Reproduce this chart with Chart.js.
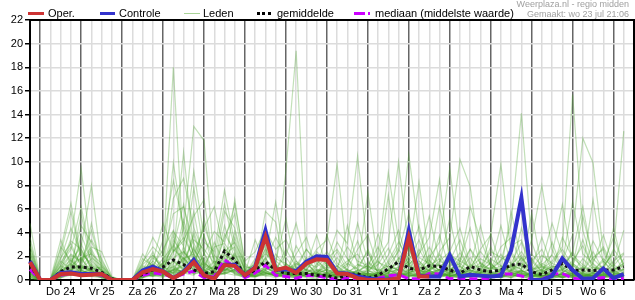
<!DOCTYPE html>
<html lang="nl">
<head>
<meta charset="UTF-8">
<title>Neerslag pluim</title>
<script src="https://cdn.jsdelivr.net/npm/chart.js@4"></script>
<style>
    body { margin: 0; background: #fff; font-family: "Liberation Sans", Arial, sans-serif; }
    .wrap { position: relative; width: 635px; height: 300px; }
    canvas { position: absolute; left: 0; top: 0; }
    .lg { position: absolute; top: 7px; font-size: 11px; line-height: 13px; color: #000; white-space: nowrap; }
    .sw { position: absolute; }
    .info { position: absolute; right: 6px; font-size: 9px; line-height: 10px; color: #a0a0a0; text-align: right; white-space: nowrap; }
</style>
</head>
<body>
<div class="wrap">
    <canvas id="chart" width="635" height="300"></canvas>
    <div class="sw" style="left:28px;top:12px;width:16px;height:3px;background:#cc3333"></div>
    <div class="lg" style="left:48px">Oper.</div>
    <div class="sw" style="left:100px;top:12px;width:15px;height:3px;background:#3333cc"></div>
    <div class="lg" style="left:119px">Controle</div>
    <div class="sw" style="left:184px;top:13px;width:16px;height:1px;background:#a9d497"></div>
    <div class="lg" style="left:203px">Leden</div>
    <div class="sw" style="left:257px;top:12px;width:14px;height:0;border-top:3px dotted #000"></div>
    <div class="lg" style="left:277px">gemiddelde</div>
    <div class="sw" style="left:354px;top:12px;width:11px;height:3px;background:#cc00ff"></div>
    <div class="sw" style="left:368px;top:12px;width:2px;height:3px;background:#cc00ff"></div>
    <div class="lg" style="left:375px">mediaan (middelste waarde)</div>
    <div class="info" style="top:-1px">Weerplaza.nl - regio midden</div>
    <div class="info" style="top:9px">Gemaakt: wo 23 jul 21:06</div>
</div>
<script>
// 6-hourly steps, starting wo 23 jul 18:00
var dayNames = ['Do 24', 'Vr 25', 'Za 26', 'Zo 27', 'Ma 28', 'Di 29', 'Wo 30', 'Do 31', 'Vr 1', 'Za 2', 'Zo 3', 'Ma 4', 'Di 5', 'Wo 6'];
var yTicks = [0, 2, 4, 6, 8, 10, 12, 14, 16, 18, 20, 22];

var oper = [1.5, 0, 0, 0.5, 0.55, 0.4, 0.45, 0.5, 0, 0,
            0, 0.65, 0.93, 0.7, 0.15, 0.65, 1.5, 0.4, 0.1, 1.27,
            1.2, 0.4, 1.05, 3.66, 0.85, 1.05, 0.6, 1.4, 1.75, 1.7,
            0.55, 0.5, 0.15, 0, 0, 0, 0.15, 3.6, 0.3, 0.3];

var controle = [1.6, 0, 0, 0.6, 0.65, 0.5, 0.5, 0.5, 0, 0,
                0, 0.8, 1.13, 0.75, 0.15, 0.7, 1.7, 0.4, 0.1, 1.3,
                1.3, 0.4, 1.1, 4.2, 0.85, 0.9, 0.75, 1.55, 2.0, 1.95,
                0.6, 0.55, 0.3, 0.15, 0.05, 0.05, 0.1, 4.2, 0.35, 0.3,
                0.3, 2.1, 0.3, 0.45, 0.37, 0.3, 0.37, 2.5, 6.96, 0,
                0, 0.35, 1.83, 0.85, 0.1, 0.15, 0.98, 0.15, 0.5, 0.4];

var gemiddelde = [1.3, 0, 0, 0.7, 1.1, 1.1, 1.0, 0.65, 0.1, 0,
                  0, 0.5, 0.85, 1.1, 1.7, 1.3, 0.85, 0.55, 0.7, 2.45,
                  1.7, 0.4, 0.85, 1.55, 0.85, 0.55, 0.55, 0.55, 0.4, 0.4,
                  0.15, 0.4, 0.55, 0.15, 0.4, 0.95, 1.55, 1.0, 0.85, 1.2,
                  1.15, 0.85, 0.55, 1.15, 0.85, 0.7, 0.85, 1.27, 1.35, 0.7,
                  0.45, 0.85, 1.4, 0.8, 0.85, 0.8, 0.85, 0.85, 1.13, 1.1];

var mediaan = [0.9, 0, 0, 0.4, 0.55, 0.4, 0.5, 0.4, 0, 0,
               0, 0.4, 0.6, 0.5, 0.2, 0.5, 0.75, 0.2, 0.3, 1.7,
               1.1, 0.2, 0.6, 1.25, 0.4, 0.3, 0.15, 0.4, 0.35, 0.2,
               0.05, 0.2, 0.05, 0, 0.15, 0.35, 0.45, 0.1, 0.1, 0.55,
               0.5, 0.1, 0.15, 0.1, 0.1, 0.15, 0.5, 0.5, 0.35, 0.02,
               0.05, 0.5, 0.55, 0.15, 0.05, 0.1, 0.2, 0.05, 0.15, 0.15];

var leden = [
    [0.8,0,0,1.2,3.5,9.4,2.1,0.6,0,0, 0,0.4,1.1,0.6,0.3,1.8,2.2,0.9,0.2,1.4, 0.8,0.2,0.6,1.9,0.4,0.3,0.2,0.8,0.5,0.3, 0.1,0.4,0.6,0.2,0,0.3,1.1,0.5,0.2,0.4, 0.9,0.3,0.2,0.5,0.3,0.1,0.6,1.2,0.4,0, 0.1,0.5,1.0,0.3,0.2,0.4,0.3,0.2,0.6,0.4],
    [2.5,0,0,0.4,1.6,2.8,8.0,1.3,0.2,0, 0,0.8,2.4,0.5,0.9,0.6,0.4,1.7,0.3,0.6, 2.2,0.4,0.3,0.8,1.2,0.5,0.4,0.2,0.1,0.6, 1.2,0.3,0.2,0.5,0.3,0.8,0.4,2.1,1.1,0.6, 0.3,0.8,0.4,0.2,0.6,1.5,0.3,0.2,0.8,0.4, 0.2,0.1,0.4,0.9,0.5,0.3,0.2,0.7,0.4,0.3],
    [1.1,0,0,0.2,0.6,1.0,0.8,0.3,0,0, 0,1.5,2.8,1.9,18.0,2.5,1.2,0.6,0.3,0.8, 1.1,0.3,0.5,1.2,0.4,0.2,0.8,1.6,0.4,0.2, 0.5,0.9,0.3,0.1,0.2,0.6,0.3,1.4,0.6,0.8, 1.3,0.4,0.2,0.3,0.9,0.5,0.2,0.4,0.3,0.1, 0.3,0.6,0.2,0.4,1.1,0.6,0.2,0.3,0.5,0.8],
    [0.4,0,0,0.8,1.4,0.6,0.9,0.4,0,0, 0,0.2,0.6,1.3,9.9,4.2,1.5,0.8,0.5,2.1, 1.6,0.6,0.4,2.4,0.9,0.5,0.3,0.4,0.8,0.2, 0.3,0.2,0.5,0.8,0.4,0.2,0.9,0.6,0.3,1.2, 0.4,0.2,0.3,0.6,0.4,0.3,0.2,0.8,1.9,0.6, 0.2,0.4,0.3,0.5,0.2,0.7,0.4,0.3,0.2,0.5],
    [4.8,0,0,2.6,6.5,1.8,0.7,0.5,0,0, 0,0.6,0.3,0.9,2.2,10.8,2.6,1.1,0.6,0.9, 0.7,0.3,1.2,0.6,0.3,1.4,0.8,0.5,0.6,0.4, 0.8,0.5,0.2,0.3,0.6,0.2,0.5,0.3,1.6,0.7, 0.5,0.9,0.6,0.4,0.2,0.6,0.8,0.3,0.5,0.2, 0.8,0.3,0.5,0.2,0.4,0.3,0.8,0.6,0.3,0.2],
    [0.6,0,0,0.3,0.8,1.4,2.6,0.9,0,0, 0,0.3,0.8,0.4,1.3,4.4,13.0,11.8,1.4,0.6, 0.9,0.2,0.4,0.7,0.3,0.6,1.1,0.4,0.3,0.6, 0.3,0.2,0.4,0.6,0.2,0.9,0.5,0.3,0.4,0.6, 0.2,0.5,0.9,0.4,0.3,0.2,0.6,0.4,0.8,0.3, 0.6,0.2,0.3,0.8,0.3,0.2,0.5,0.4,0.9,0.3],
    [1.8,0,0,0.5,0.9,5.6,1.2,0.3,0,0, 0,0.5,1.6,0.8,3.1,1.4,7.8,2.3,0.8,4.6, 1.8,0.5,0.3,1.1,0.6,0.8,0.4,0.3,0.6,1.3, 0.6,0.4,0.3,0.2,0.1,0.4,0.8,0.4,0.2,0.5, 0.3,0.6,0.4,0.9,0.5,0.3,0.2,0.6,0.3,0.4, 0.2,0.8,0.6,0.3,0.5,0.4,0.2,0.9,0.3,0.6],
    [0.3,0,0,0.6,0.4,0.8,0.5,0.2,0,0, 0,1.0,0.5,0.3,1.8,0.9,1.6,3.2,2.4,7.6, 3.1,0.8,0.6,0.9,1.4,0.4,0.2,0.5,0.3,0.4, 0.2,0.6,0.4,0.3,0.5,0.2,0.4,0.6,0.9,0.3, 0.6,0.3,1.2,0.4,0.6,0.8,0.4,0.5,0.2,0.3, 0.4,0.2,0.6,1.3,0.4,0.2,0.3,0.4,0.2,0.8],
    [0.9,0,0,0.2,0.5,0.4,0.3,0.6,0,0, 0,0.3,0.4,0.2,0.9,1.2,0.5,0.8,0.4,1.2, 2.3,0.4,1.6,2.9,1.1,9.3,19.4,1.5,0.5,0.3, 0.4,0.3,0.2,0.4,0.3,0.2,0.3,0.8,0.4,0.6, 0.3,0.4,0.2,0.6,0.3,0.5,0.4,0.2,0.6,0.4, 0.3,0.6,0.2,0.4,0.3,0.5,0.6,0.3,0.4,0.2],
    [3.2,0,0,0.9,2.1,1.5,4.2,1.1,0.1,0, 0,0.9,1.3,0.6,2.6,1.8,0.9,5.2,1.6,0.8, 6.8,1.2,0.8,5.8,4.9,0.6,0.4,0.3,0.5,0.9, 0.4,0.3,0.8,0.5,0.2,0.3,0.6,0.4,0.3,0.8, 0.5,0.3,0.6,0.2,0.4,0.7,0.3,0.6,0.5,0.3, 0.4,0.3,0.2,0.6,0.8,0.3,0.4,0.2,0.5,0.3],
    [0.5,0,0,0.4,0.7,0.3,0.6,0.2,0,0, 0,0.4,0.6,0.8,0.5,1.9,0.8,0.6,0.3,2.8, 1.1,0.3,0.4,0.6,0.3,0.8,0.5,1.2,2.6,3.4, 9.8,1.8,0.6,0.4,0.3,0.2,0.5,0.9,0.4,0.3, 0.6,0.4,0.3,0.5,0.8,0.2,0.3,0.6,0.4,0.2, 0.5,0.4,0.6,0.3,0.2,0.4,0.5,0.3,0.7,0.4],
    [0.2,0,0,0.3,0.5,0.9,0.4,0.3,0,0, 0,0.2,0.9,0.4,1.1,0.6,2.8,0.9,0.4,1.5, 0.6,0.2,0.3,0.5,0.6,0.3,1.4,0.8,0.5,1.6, 4.2,3.1,10.5,2.4,0.5,0.3,0.2,0.6,0.4,0.8, 0.3,0.5,0.4,0.3,0.6,0.4,0.2,0.5,0.3,0.6, 0.2,0.3,0.5,0.4,0.3,0.6,0.2,0.4,0.3,0.5],
    [1.4,0,0,0.6,1.1,0.7,0.5,0.4,0,0, 0,0.5,0.3,0.6,0.8,2.4,1.3,0.5,0.6,0.8, 1.4,0.5,0.8,0.4,0.2,0.5,0.3,0.6,0.4,0.3, 0.5,0.4,0.6,0.9,2.2,9.1,3.4,1.2,0.6,0.4, 0.3,0.6,0.8,0.4,0.3,0.5,0.6,0.2,0.4,0.3, 0.6,0.4,0.3,0.2,0.5,0.3,0.4,0.8,0.3,0.2],
    [0.7,0,0,1.5,2.8,1.2,0.8,0.3,0,0, 0,0.7,0.5,0.9,0.6,1.4,3.8,1.2,0.9,1.1, 0.5,0.4,0.2,0.8,0.5,0.4,0.6,0.3,0.2,0.5, 0.8,0.3,0.4,0.6,1.8,3.2,10.0,2.6,0.8,0.5, 0.4,0.3,0.6,0.8,0.3,0.4,0.2,0.6,0.5,0.3, 0.2,0.5,0.4,0.3,0.6,0.4,0.3,0.5,0.2,0.4],
    [0.3,0,0,0.2,0.4,0.6,0.3,0.2,0,0, 0,0.4,0.7,0.5,1.6,0.8,0.6,2.2,0.5,0.6, 1.2,0.6,0.9,3.4,0.6,0.3,0.4,0.6,0.3,0.4, 0.3,0.5,0.2,0.3,0.6,1.4,2.8,10.6,4.1,1.2, 0.6,0.4,0.3,0.2,0.5,0.3,0.8,0.4,0.3,0.6, 0.4,0.3,0.2,0.5,0.4,0.6,0.3,0.2,0.4,0.6],
    [2.1,0,0,0.7,0.5,3.8,1.6,0.8,0.2,0, 0,0.3,0.6,0.3,0.7,0.5,1.2,0.4,0.3,0.9, 4.1,0.8,0.5,1.0,0.7,0.6,0.5,0.4,0.3,0.2, 0.6,0.4,0.3,0.8,0.4,0.6,0.9,2.4,8.3,1.6, 0.8,0.3,0.5,0.6,0.3,0.4,0.2,0.8,0.6,0.4, 0.3,0.5,0.2,0.4,0.6,0.3,0.5,0.4,0.2,0.3],
    [0.6,0,0,0.4,1.9,0.8,0.6,0.5,0,0, 0,0.6,0.4,0.7,0.4,0.9,0.6,1.5,0.7,0.5, 0.9,0.3,0.7,0.6,0.4,0.3,0.2,0.5,0.6,0.4, 0.3,0.6,0.5,0.3,0.4,0.8,0.6,1.3,2.2,3.6, 8.5,1.4,0.6,0.4,0.5,0.3,0.6,0.4,0.8,0.3, 0.4,0.2,0.6,0.5,0.3,0.4,0.6,0.3,0.5,0.2],
    [1.2,0,0,0.3,0.6,0.5,1.1,0.4,0,0, 0,0.8,0.5,0.4,1.2,0.6,2.0,0.8,0.4,0.6, 0.8,0.3,0.4,0.5,0.8,0.4,0.6,0.3,0.4,0.5, 0.2,0.4,0.3,0.5,0.6,0.3,0.4,0.8,0.6,1.9, 3.2,9.45,2.6,0.8,0.5,0.4,0.3,0.6,0.4,0.5, 0.3,0.6,0.4,0.2,0.3,0.5,0.4,0.6,0.3,0.5],
    [0.4,0,0,0.5,0.8,1.1,0.7,0.6,0,0, 0,0.2,0.4,0.8,0.6,2.8,1.1,0.5,0.6,1.8, 0.5,0.2,0.8,0.3,0.5,0.6,0.4,0.9,0.5,0.3, 0.4,0.8,0.5,0.3,0.2,0.4,0.5,0.6,1.1,0.8, 2.4,3.6,10.2,7.9,1.4,0.6,0.4,0.3,0.5,0.6, 0.3,0.4,0.5,0.3,0.6,0.2,0.4,0.5,0.6,0.3],
    [0.8,0,0,0.9,0.4,0.6,0.8,0.3,0,0, 0,0.6,1.4,0.5,0.8,1.1,0.9,0.6,1.2,0.7, 1.6,0.4,0.5,0.8,0.3,0.4,0.5,0.3,0.8,0.6, 0.5,0.3,0.4,0.6,0.4,0.5,0.3,0.6,0.4,0.5, 0.8,0.6,0.4,0.9,2.6,3.8,9.8,2.2,0.8,0.4, 0.6,0.3,0.5,0.4,0.3,0.6,0.4,0.3,0.5,0.4],
    [0.5,0,0,0.3,0.7,0.4,0.5,0.4,0,0, 0,0.4,0.7,0.3,0.9,0.7,1.4,1.9,0.6,0.8, 1.3,0.5,0.3,0.6,0.4,0.8,0.4,0.6,0.3,0.4, 0.6,0.4,0.3,0.2,0.5,0.4,0.6,0.3,0.5,0.8, 0.4,0.6,0.8,0.5,0.6,0.9,1.6,4.8,14.1,3.2, 0.8,0.5,0.3,0.6,0.4,0.3,0.5,0.4,0.6,0.3],
    [1.6,0,0,0.8,1.3,0.9,2.4,0.7,0,0, 0,0.9,0.6,1.2,0.5,0.8,0.6,0.9,0.4,1.0, 0.7,0.6,0.3,0.4,0.6,0.5,0.3,0.4,0.6,0.3, 0.5,0.4,0.6,0.4,0.3,0.6,0.4,0.5,0.3,0.6, 0.6,0.4,0.5,0.3,0.8,0.4,0.6,1.2,0.9,3.4, 8.0,2.6,0.8,0.5,0.3,0.4,0.6,0.3,0.4,0.5],
    [0.9,0,0,0.4,0.6,0.8,0.5,0.2,0,0, 0,0.3,0.5,0.6,0.8,0.5,0.9,0.4,0.5,0.6, 0.4,0.3,0.6,0.8,0.3,0.5,0.6,0.4,0.3,0.6, 0.4,0.6,0.3,0.5,0.4,0.3,0.5,0.4,0.6,0.4, 0.5,0.3,0.4,0.6,0.3,0.5,0.4,0.6,0.8,0.5, 0.9,1.6,2.8,15.7,4.2,1.3,0.6,0.4,0.3,0.5],
    [0.2,0,0,0.6,0.9,1.3,0.6,0.4,0,0, 0,0.5,0.3,0.4,1.0,0.6,0.8,0.5,0.3,0.9, 0.6,0.4,0.5,0.6,0.4,0.3,0.5,0.6,0.4,0.5, 0.3,0.5,0.4,0.6,0.3,0.5,0.4,0.3,0.5,0.6, 0.4,0.5,0.3,0.4,0.6,0.3,0.5,0.8,0.6,0.4, 1.2,0.8,1.6,3.8,12.0,9.9,2.4,0.6,0.5,0.4],
    [0.6,0,0,0.3,0.5,0.7,0.4,0.3,0,0, 0,0.6,0.4,0.5,0.6,0.9,0.5,0.7,0.4,0.5, 0.9,0.4,0.3,0.5,0.6,0.4,0.3,0.5,0.6,0.4, 0.5,0.3,0.6,0.4,0.5,0.3,0.6,0.4,0.3,0.5, 0.6,0.3,0.5,0.4,0.3,0.6,0.4,0.5,0.3,0.6, 0.4,0.3,0.5,0.6,0.4,0.8,1.1,2.4,12.6,4.8],
    [3.6,0,0,1.8,4.4,2.2,1.4,0.8,0.1,0, 0,1.4,3.6,2.1,5.6,6.2,3.1,1.4,0.9,5.8, 4.4,1.1,0.9,2.6,1.2,0.8,1.4,0.9,0.6,1.8, 2.6,1.2,4.8,1.6,0.8,1.2,2.4,5.6,1.9,1.4, 6.2,2.1,1.6,4.4,1.2,0.9,2.8,3.6,1.4,0.8, 1.6,4.8,2.2,1.1,5.4,1.8,0.9,2.6,1.4,3.2],
    [2.4,0,0.1,3.4,1.2,4.6,3.2,1.6,0.2,0, 0.1,0.8,1.6,4.8,2.4,3.3,5.4,6.8,1.1,3.6, 5.6,0.9,1.3,1.6,3.6,1.9,0.7,1.2,3.8,1.1, 0.8,4.6,1.3,0.9,3.9,1.4,0.8,1.6,3.4,0.9, 1.4,5.2,1.2,2.6,0.8,3.9,1.1,0.8,4.4,1.6, 0.7,2.2,6.4,1.4,0.8,3.3,1.6,0.6,1.8,2.6],
    [1.1,0,0,2.2,5.8,1.6,2.8,2.4,0.3,0, 0,2.2,1.1,0.9,6.9,8.6,4.4,2.2,4.1,3.2, 6.4,1.6,2.4,4.4,0.9,2.1,4.8,1.4,1.1,3.8, 1.4,0.9,2.6,3.8,1.1,7.2,1.6,3.1,1.2,2.8, 1.2,1.6,3.4,1.1,1.8,1.3,4.6,1.2,2.4,1.1, 3.6,1.1,1.4,6.6,2.2,1.4,3.8,1.2,4.2,1.4],
    [0.9,0,0,1.3,2.6,6.2,1.9,1.2,0.2,0, 0,0.4,2.1,1.2,4.1,2.9,9.2,3.6,1.8,6.4, 2.6,0.8,0.8,1.9,6.6,1.3,0.9,2.6,1.6,0.9, 3.2,1.8,0.9,7.4,1.5,1.1,0.9,1.9,4.6,1.2, 1.8,0.9,1.4,6.2,3.4,1.2,0.8,5.8,1.6,2.2, 1.2,0.8,3.6,1.9,1.1,6.8,1.4,3.6,1.2,2.4],
    [1.5,0,0,0.8,3.3,2.6,1.1,0.6,0,0, 0,1.2,0.9,3.4,8.4,4.6,2.2,4.4,6.2,2.4, 3.2,1.4,0.6,4.2,2.6,3.4,1.6,0.8,2.4,1.6, 1.1,2.8,1.6,1.2,0.8,2.1,4.2,1.3,2.1,5.4, 1.6,2.4,4.4,1.3,1.1,2.4,1.9,1.4,3.2,0.9, 2.1,1.4,1.1,2.4,6.2,1.6,2.8,1.2,2.2,1.1],
    [0.4,0,0,2.8,1.6,0.9,4.8,0.9,0.1,0, 0,0.3,0.8,1.4,2.8,6.4,1.8,0.9,3.2,1.4, 2.1,0.6,3.4,1.2,0.8,0.6,2.2,3.6,0.9,0.6, 0.6,1.2,3.3,0.8,0.6,0.9,1.4,0.7,2.6,1.1, 3.8,0.9,0.7,1.2,4.6,1.1,0.6,1.3,0.9,5.6, 1.1,0.6,0.9,1.4,0.7,2.4,0.8,4.4,0.9,1.2],
    [2.8,0,0,0.6,1.4,3.1,0.8,0.4,0,0, 0,0.7,0.5,0.8,3.4,2.1,5.8,1.1,0.6,2.2, 1.4,0.5,0.6,0.9,1.6,5.2,0.8,0.6,0.5,0.9, 0.6,0.5,0.8,2.6,0.9,0.6,1.8,3.1,0.8,0.6, 0.9,0.6,1.9,0.8,0.6,2.8,0.7,0.9,1.4,0.6, 0.6,3.2,0.8,0.6,1.1,0.8,1.6,0.7,0.9,6.2],
    [0.7,0,0,1.1,2.2,1.6,3.4,1.8,0.1,0, 0,0.6,1.9,1.1,2.4,3.6,1.9,1.2,2.8,3.1, 1.8,0.6,1.4,2.2,1.6,0.9,1.2,2.6,1.4,0.8, 1.9,0.7,1.1,2.4,0.6,1.6,3.2,1.8,0.9,2.1, 1.1,1.8,0.6,2.6,1.4,0.9,1.7,2.4,1.1,0.7, 1.3,2.1,0.8,1.6,2.9,1.1,0.7,1.6,2.3,1.2],
    [1.9,0,0,1.6,0.9,2.4,1.2,0.9,0,0, 0,1.8,1.2,2.6,4.2,1.6,3.4,2.6,1.4,2.2, 2.8,0.9,0.7,3.1,1.8,1.4,0.6,1.1,2.2,1.3, 0.9,1.6,2.2,0.8,1.3,2.7,1.1,3.8,1.6,0.8, 2.2,0.7,1.6,1.1,2.4,1.3,0.8,2.9,3.4,1.1, 0.6,1.4,2.6,1.2,0.8,1.9,2.6,0.9,1.4,2.8],
    [0.2,0,0,0.9,1.7,0.8,1.3,0.5,0,0, 0,0.9,0.6,1.5,1.9,2.4,1.1,3.8,0.9,1.6, 1.2,0.4,0.9,1.4,0.8,2.6,1.1,0.6,1.3,2.4, 1.2,0.5,0.8,1.2,2.8,0.9,1.6,0.8,1.4,0.7, 1.6,1.1,2.3,0.8,0.9,1.8,1.2,0.6,1.9,0.8, 1.4,0.9,1.2,2.1,1.3,0.7,1.8,1.1,0.6,1.5],
    [2.9,0,0,0.5,0.8,1.9,0.6,0.3,0,0, 0,0.4,1.3,0.7,3.8,1.2,2.6,1.3,0.6,3.9, 2.4,0.5,1.8,1.1,0.6,0.4,2.9,1.3,0.7,1.1, 2.4,0.8,0.6,1.5,0.7,0.5,1.9,1.2,0.6,1.4, 0.8,2.4,1.1,0.6,1.5,0.8,2.2,0.9,0.7,1.6, 2.6,0.8,1.1,0.6,1.8,0.9,1.2,2.2,0.8,0.9],
    [0.5,0,0,0.7,1.2,1.9,2.2,1.4,0.1,0, 0,0.7,0.9,0.6,1.4,5.1,2.2,0.8,1.1,1.9, 1.1,0.3,0.6,1.8,0.9,0.7,0.5,1.9,0.8,0.6, 0.7,1.4,0.9,0.5,0.6,1.2,0.8,1.6,0.7,1.3, 0.6,0.9,1.4,0.7,1.2,0.5,0.9,1.3,2.1,0.6, 0.9,0.5,1.7,0.8,0.6,1.4,0.7,0.9,1.2,0.6],
    [1.3,0,0,1.9,3.1,1.1,0.9,0.6,0,0, 0,1.1,0.8,1.8,2.9,1.3,1.8,4.6,2.1,1.2, 3.6,0.7,1.1,0.9,2.2,1.1,0.8,0.6,1.1,1.9, 0.8,0.6,1.3,1.1,0.8,0.6,2.6,1.3,0.6,0.9, 1.3,0.6,0.8,1.9,0.7,1.1,0.6,0.8,1.2,1.8, 0.7,1.1,0.6,1.2,3.4,0.8,0.6,1.3,0.7,1.1],
    [0.1,0,0,0.4,0.6,2.6,0.9,1.1,0,0, 0,0.2,0.5,0.9,1.6,0.9,4.1,1.4,0.8,2.6, 1.9,0.4,0.6,2.7,0.8,0.6,1.6,0.7,0.9,0.8, 0.6,0.9,0.5,0.8,1.6,0.7,0.9,2.8,0.9,0.6, 0.9,1.6,0.5,1.1,0.6,0.8,1.2,0.7,0.6,0.9, 1.1,0.6,0.8,2.4,0.7,0.6,0.9,0.8,1.4,0.7],
    [2.2,0,0,1.2,0.7,0.9,1.8,0.6,0,0, 0,1.3,2.1,0.9,1.1,1.9,0.8,0.7,1.6,1.3, 0.8,0.6,0.9,0.6,1.1,0.7,0.6,0.9,1.8,0.7, 0.9,0.6,0.7,1.2,0.5,0.8,1.1,0.6,0.9,1.7, 0.7,0.9,1.2,0.6,0.8,1.4,0.6,1.1,0.7,0.9, 0.5,1.2,0.7,0.9,0.6,1.1,0.8,0.6,0.9,0.7]
];

// x labels: one per 6 hours, day name at noon
var labels = [];
for (var i = 0; i < 60; i++) {
    labels.push((i - 3) % 4 === 0 && i >= 3 ? dayNames[(i - 3) / 4] : '');
}

var datasets = [
    { label: 'Oper.', data: oper, borderColor: '#cc3333', borderWidth: 4 },
    { label: 'Controle', data: controle, borderColor: '#3333cc', borderWidth: 4 },
    { label: 'gemiddelde', data: gemiddelde, borderColor: '#111', borderWidth: 3, borderDash: [3, 3] },
    { label: 'mediaan', data: mediaan, borderColor: '#cc00ff', borderWidth: 3, borderDash: [8, 4] }
];
leden.forEach(function (m) {
    datasets.push({ label: 'Leden', data: m, borderColor: 'rgba(70,160,40,0.33)', borderWidth: 1.2 });
});

var frame = {
    id: 'frame',
    afterDraw: function (chart) {
        var a = chart.chartArea, ctx = chart.ctx;
        ctx.save();
        ctx.strokeStyle = '#000';
        ctx.lineWidth = 2;
        ctx.beginPath();
        ctx.moveTo(a.left, a.top);
        ctx.lineTo(a.right, a.top);
        ctx.lineTo(a.right, a.bottom);
        ctx.stroke();
        ctx.restore();
    }
};

Chart.defaults.font.family = '"Liberation Sans", Arial, sans-serif';
Chart.defaults.font.size = 11;
Chart.defaults.color = '#000';

new Chart(document.getElementById('chart'), {
    type: 'line',
    data: { labels: labels, datasets: datasets },
    options: {
        responsive: false,
        animation: false,
        events: [],
        elements: { point: { radius: 0 }, line: { tension: 0 } },
        layout: { padding: { top: 20, right: 1, left: 0, bottom: 0 } },
        plugins: { legend: { display: false }, tooltip: { enabled: false } },
        scales: {
            x: {
                type: 'category',
                afterFit: function (s) { s.height = 20; },
                border: { color: '#000', width: 2 },
                grid: {
                    color: function (c) { return (c.index - 1) % 4 === 0 ? '#666' : '#dcdcdc'; },
                    lineWidth: function (c) { return (c.index - 1) % 4 === 0 ? 1.5 : 1.5; },
                    tickColor: '#000',
                    tickLength: 5
                },
                ticks: { autoSkip: false, maxRotation: 0, padding: 0 }
            },
            y: {
                min: 0,
                max: 22,
                afterFit: function (s) { s.width = 30; },
                afterBuildTicks: function (s) { s.ticks = yTicks.map(function (v) { return { value: v }; }); },
                border: { color: '#000', width: 2 },
                grid: { color: '#dcdcdc', lineWidth: 1.5, tickColor: '#000', tickLength: 5 },
                ticks: { padding: 2 }
            }
        }
    },
    plugins: [frame]
});
</script>
</body>
</html>
